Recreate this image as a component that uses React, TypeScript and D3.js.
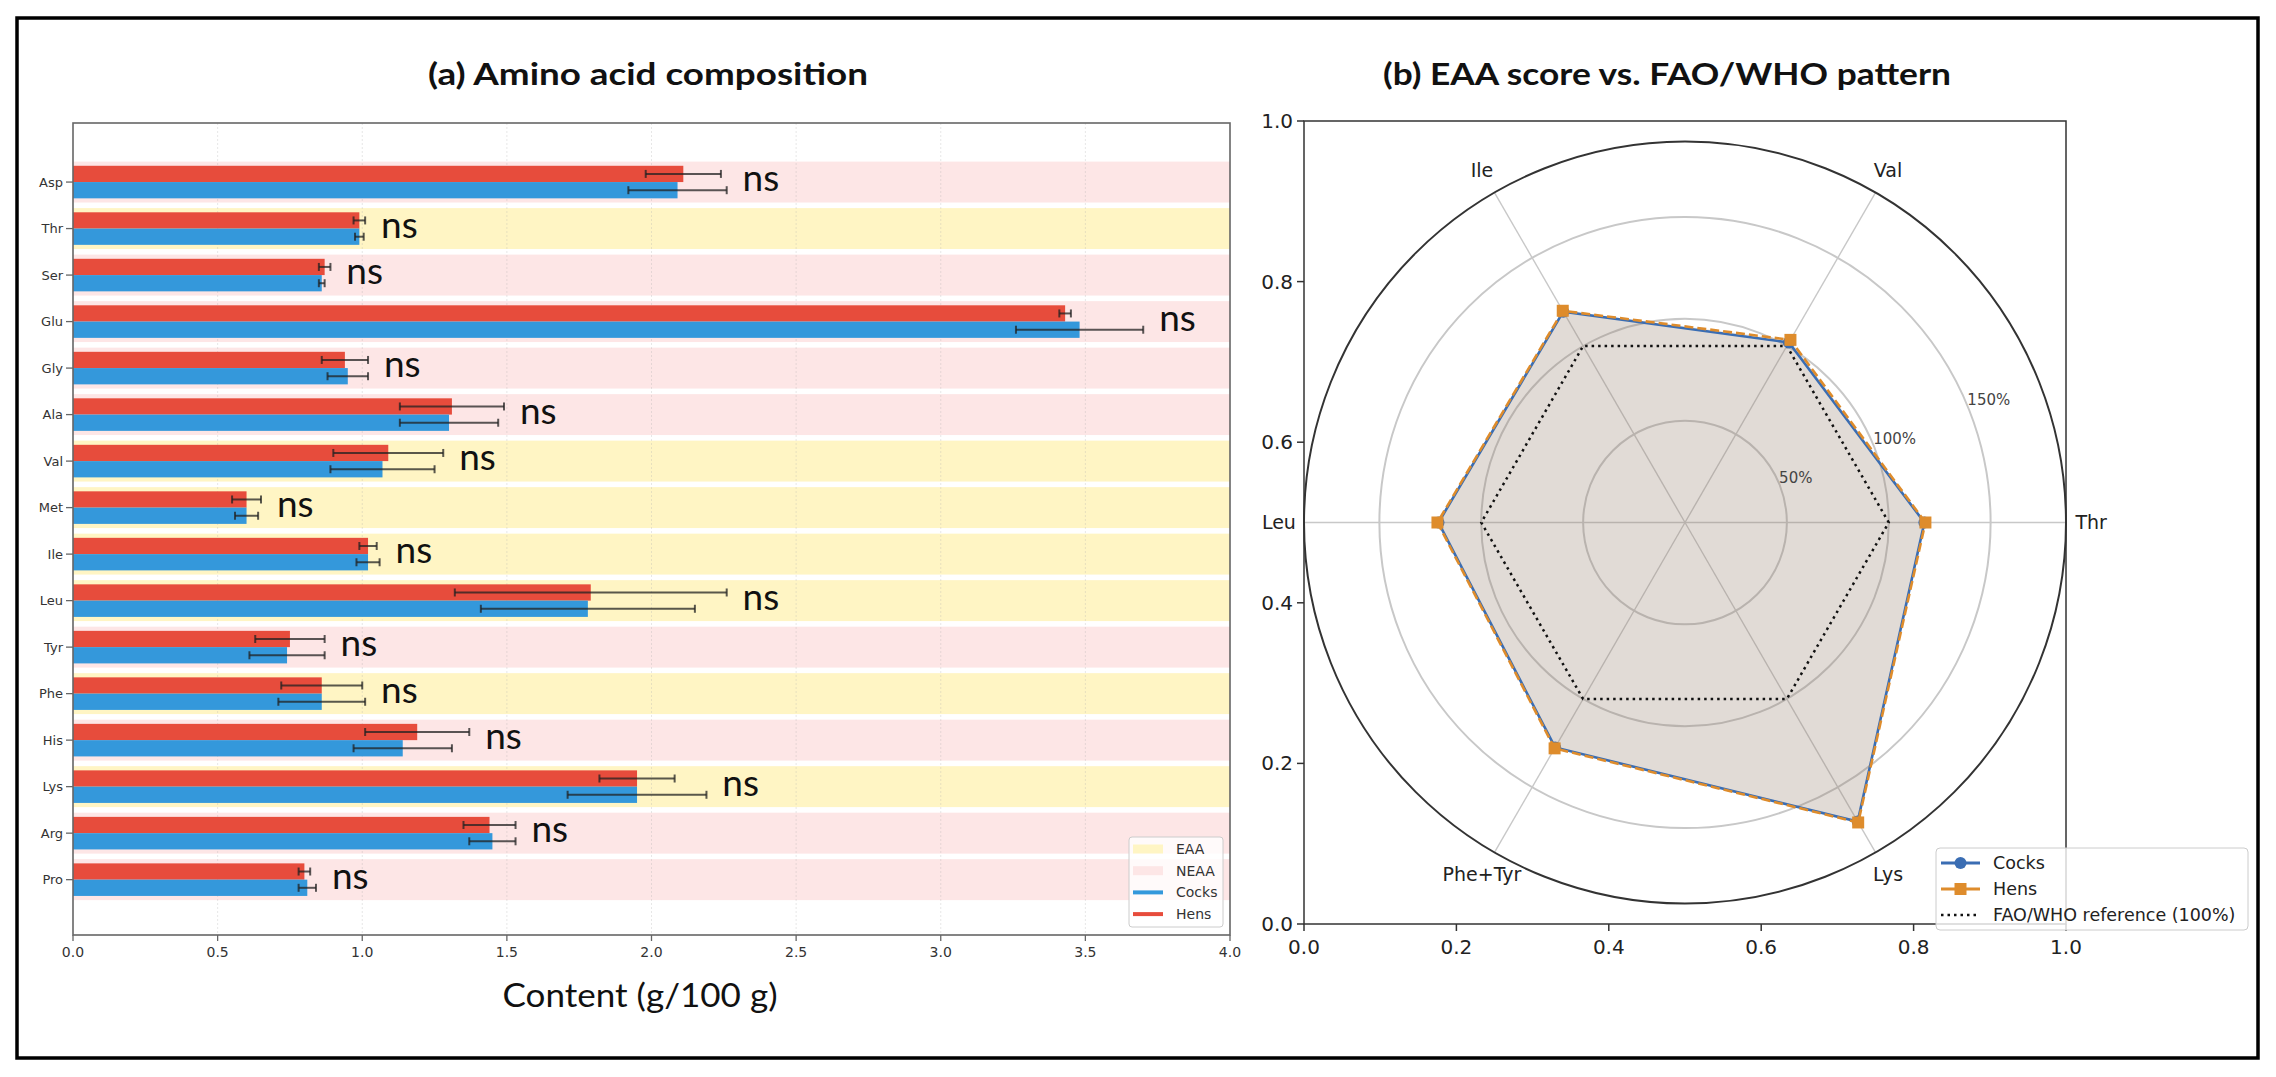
import { useEffect, useRef } from 'react';
import * as d3 from 'd3';

// (a) amino acid composition, g/100 g
const aminoAcids = ['Asp', 'Thr', 'Ser', 'Glu', 'Gly', 'Ala', 'Val', 'Met', 'Ile', 'Leu', 'Tyr', 'Phe', 'His', 'Lys', 'Arg', 'Pro'];
const aaGroup = ['NEAA', 'EAA', 'NEAA', 'NEAA', 'NEAA', 'NEAA', 'EAA', 'EAA', 'EAA', 'EAA', 'NEAA', 'EAA', 'NEAA', 'EAA', 'NEAA', 'NEAA'];
const cocksMean = [2.09, 0.99, 0.86, 3.48, 0.95, 1.3, 1.07, 0.6, 1.02, 1.78, 0.74, 0.86, 1.14, 1.95, 1.45, 0.81];
const cocksSd = [0.17, 0.015, 0.01, 0.22, 0.07, 0.17, 0.18, 0.04, 0.04, 0.37, 0.13, 0.15, 0.17, 0.24, 0.08, 0.03];
const hensMean = [2.11, 0.99, 0.87, 3.43, 0.94, 1.31, 1.09, 0.6, 1.02, 1.79, 0.75, 0.86, 1.19, 1.95, 1.44, 0.8];
const hensSd = [0.13, 0.02, 0.02, 0.02, 0.08, 0.18, 0.19, 0.05, 0.03, 0.47, 0.12, 0.14, 0.18, 0.13, 0.09, 0.02];
const sigLabels = aminoAcids.map(() => 'ns');
const contentTicks = [0, 0.5, 1, 1.5, 2, 2.5, 3, 3.5, 4];

// (b) EAA score (% of FAO/WHO pattern)
const eaaAxes = ['Thr', 'Val', 'Ile', 'Leu', 'Phe+Tyr', 'Lys'];
const cocksScore = [117.5, 102, 119.5, 121, 127.5, 169.5];
const hensScore = [118, 103.5, 120, 121.5, 128, 170];
const faoReference = [100, 100, 100, 100, 100, 100];
const radialTicks = [50, 100, 150];
const frameTicks = [0, 0.2, 0.4, 0.6, 0.8, 1.0];

const COCKS = '#3498db';
const HENS = '#e74c3c';
const COCKS_R = '#3a6db3';
const HENS_R = '#de8c2c';
const EAA_FILL = '#fff5c4';
const NEAA_FILL = '#fde6e6';
const tickFont = 'DejaVu Sans, sans-serif';
const titleFont = 'Lato, Open Sans, sans-serif';

const App = () => {
  const svgRef = useRef<SVGSVGElement>(null);

  useEffect(() => {
    if (!svgRef.current) return;
    const svg = d3.select(svgRef.current);
    svg.selectAll('*').remove();

    svg.append('rect').attr('width', 2276).attr('height', 1077).attr('fill', '#fff');
    svg.append('rect')
      .attr('x', 17).attr('y', 18).attr('width', 2241).attr('height', 1040)
      .attr('fill', 'none').attr('stroke', '#000').attr('stroke-width', 3.5);

    // ---------- (a) bars ----------
    const x = d3.scaleLinear().domain([0, 4]).range([73, 1230]);
    const y = d3.scaleLinear().domain([-1.27, 16.19]).range([123, 935]);
    const a = svg.append('g');
    const idx = aminoAcids.map((_, i) => i);

    a.selectAll('.band').data(idx).enter().append('rect')
      .attr('x', x(0)).attr('width', x(4) - x(0))
      .attr('y', i => y(i - 0.44)).attr('height', y(0.88) - y(0))
      .attr('fill', i => (aaGroup[i] === 'EAA' ? EAA_FILL : NEAA_FILL));

    a.selectAll('.grid').data(contentTicks.slice(1, -1)).enter().append('line')
      .attr('x1', d => x(d)).attr('x2', d => x(d)).attr('y1', y.range()[0]).attr('y2', y.range()[1])
      .attr('stroke', '#b0b0b0').attr('stroke-opacity', 0.3).attr('stroke-dasharray', '2,2');

    const bh = y(0.35) - y(0);
    a.selectAll('.hens').data(idx).enter().append('rect')
      .attr('x', x(0)).attr('y', i => y(i) - bh)
      .attr('width', i => x(hensMean[i]) - x(0)).attr('height', bh).attr('fill', HENS);
    a.selectAll('.cocks').data(idx).enter().append('rect')
      .attr('x', x(0)).attr('y', i => y(i))
      .attr('width', i => x(cocksMean[i]) - x(0)).attr('height', bh).attr('fill', COCKS);

    const errs = [
      ...idx.map(i => ({ m: hensMean[i], s: hensSd[i], cy: y(i) - bh / 2 })),
      ...idx.map(i => ({ m: cocksMean[i], s: cocksSd[i], cy: y(i) + bh / 2 })),
    ];
    const eg = a.append('g').attr('stroke', '#222').attr('stroke-opacity', 0.75).attr('stroke-width', 2);
    errs.forEach(e => {
      eg.append('line').attr('x1', x(e.m - e.s)).attr('x2', x(e.m + e.s)).attr('y1', e.cy).attr('y2', e.cy);
      [e.m - e.s, e.m + e.s].forEach(v => {
        eg.append('line').attr('x1', x(v)).attr('x2', x(v)).attr('y1', e.cy - 4).attr('y2', e.cy + 4);
      });
    });

    a.selectAll('.ns').data(idx).enter().append('text')
      .attr('x', i => x(Math.max(hensMean[i] + hensSd[i], cocksMean[i] + cocksSd[i]) + 0.055))
      .attr('y', i => y(i) + 9)
      .attr('font-family', titleFont).attr('font-size', 37).attr('fill', '#111')
      .text(i => sigLabels[i]);

    a.append('rect')
      .attr('x', x(0)).attr('y', y.range()[0]).attr('width', x(4) - x(0)).attr('height', y.range()[1] - y.range()[0])
      .attr('fill', 'none').attr('stroke', '#666').attr('stroke-width', 1.6);

    a.selectAll('.ytick').data(idx).enter().append('line')
      .attr('x1', x(0) - 7).attr('x2', x(0)).attr('y1', i => y(i)).attr('y2', i => y(i))
      .attr('stroke', '#666').attr('stroke-width', 1.3);
    a.selectAll('.ylab').data(idx).enter().append('text')
      .attr('x', x(0) - 10).attr('y', i => y(i)).attr('dy', '0.35em')
      .attr('text-anchor', 'end').attr('font-family', tickFont).attr('font-size', 13).attr('fill', '#333')
      .text(i => aminoAcids[i]);

    a.selectAll('.xtick').data(contentTicks).enter().append('line')
      .attr('x1', d => x(d)).attr('x2', d => x(d)).attr('y1', y.range()[1]).attr('y2', y.range()[1] + 6)
      .attr('stroke', '#666').attr('stroke-width', 1.3);
    a.selectAll('.xlab').data(contentTicks).enter().append('text')
      .attr('x', d => x(d)).attr('y', 952).attr('dy', '0.35em')
      .attr('text-anchor', 'middle').attr('font-family', tickFont).attr('font-size', 14).attr('fill', '#333')
      .text(d => d3.format('.1f')(d));

    a.append('text').attr('x', 640).attr('y', 1007).attr('text-anchor', 'middle')
      .attr('font-family', titleFont).attr('font-size', 33).attr('fill', '#111')
      .attr('textLength', 275).attr('lengthAdjust', 'spacingAndGlyphs')
      .text('Content (g/100 g)');
    a.append('text').attr('x', 648).attr('y', 85).attr('text-anchor', 'middle')
      .attr('font-family', titleFont).attr('font-weight', 'bold').attr('font-size', 31).attr('fill', '#111')
      .attr('textLength', 440).attr('lengthAdjust', 'spacingAndGlyphs')
      .text('(a) Amino acid composition');

    const legA = a.append('g').attr('transform', 'translate(1129,837)');
    legA.append('rect').attr('width', 94).attr('height', 90).attr('rx', 3)
      .attr('fill', '#fff').attr('fill-opacity', 0.8).attr('stroke', '#ccc');
    const legAItems = [
      { label: 'EAA', color: EAA_FILL, kind: 'patch' },
      { label: 'NEAA', color: NEAA_FILL, kind: 'patch' },
      { label: 'Cocks', color: COCKS, kind: 'line' },
      { label: 'Hens', color: HENS, kind: 'line' },
    ];
    legAItems.forEach((d, k) => {
      const cy = 12 + k * 21.7;
      if (d.kind === 'patch') {
        legA.append('rect').attr('x', 4).attr('y', cy - 4.5).attr('width', 30).attr('height', 9).attr('fill', d.color);
      } else {
        legA.append('line').attr('x1', 4).attr('x2', 34).attr('y1', cy).attr('y2', cy)
          .attr('stroke', d.color).attr('stroke-width', 4);
      }
      legA.append('text').attr('x', 47).attr('y', cy).attr('dy', '0.35em')
        .attr('font-family', tickFont).attr('font-size', 14).attr('fill', '#333').text(d.label);
    });

    // ---------- (b) radar ----------
    const xb = d3.scaleLinear().domain([0, 1]).range([1304, 2066]);
    const yb = d3.scaleLinear().domain([0, 1]).range([924, 121]);
    const b = svg.append('g');
    b.append('rect')
      .attr('x', xb(0)).attr('y', yb(1)).attr('width', xb(1) - xb(0)).attr('height', yb(0) - yb(1))
      .attr('fill', '#fff').attr('stroke', '#333').attr('stroke-width', 1.5);
    b.selectAll('.bxt').data(frameTicks).enter().append('line')
      .attr('x1', d => xb(d)).attr('x2', d => xb(d)).attr('y1', yb(0)).attr('y2', yb(0) + 7)
      .attr('stroke', '#333').attr('stroke-width', 1.5);
    b.selectAll('.bxl').data(frameTicks).enter().append('text')
      .attr('x', d => xb(d)).attr('y', 947).attr('dy', '0.35em').attr('text-anchor', 'middle')
      .attr('font-family', tickFont).attr('font-size', 20).attr('fill', '#222')
      .text(d => d3.format('.1f')(d));
    b.selectAll('.byt').data(frameTicks).enter().append('line')
      .attr('x1', xb(0) - 7).attr('x2', xb(0)).attr('y1', d => yb(d)).attr('y2', d => yb(d))
      .attr('stroke', '#333').attr('stroke-width', 1.5);
    b.selectAll('.byl').data(frameTicks).enter().append('text')
      .attr('x', xb(0) - 11).attr('y', d => yb(d)).attr('dy', '0.35em').attr('text-anchor', 'end')
      .attr('font-family', tickFont).attr('font-size', 20).attr('fill', '#222')
      .text(d => d3.format('.1f')(d));

    const cx = xb(0.5);
    const cy = yb(0.5);
    const R = (xb(1) - xb(0)) / 2;
    const rmax = 1.1 * (d3.max(hensScore) || 0);
    const r = d3.scaleLinear().domain([0, rmax]).range([0, R]);
    const theta = (k: number) => (k * 2 * Math.PI) / eaaAxes.length;
    const pol = b.append('g').attr('transform', `translate(${cx},${cy})`);
    pol.append('circle').attr('r', R).attr('fill', '#fff');

    pol.selectAll('.ring').data(radialTicks).enter().append('circle')
      .attr('r', d => r(d)).attr('fill', 'none').attr('stroke', '#c8c8c8').attr('stroke-width', 2);
    pol.selectAll('.spoke').data(eaaAxes.map((_, k) => k)).enter().append('line')
      .attr('x1', 0).attr('y1', 0)
      .attr('x2', k => R * Math.cos(theta(k))).attr('y2', k => -R * Math.sin(theta(k)))
      .attr('stroke', '#c8c8c8').attr('stroke-width', 1.4);

    const radar = d3.lineRadial<number>()
      .angle((_, k) => Math.PI / 2 - theta(k))
      .radius(v => r(v))
      .curve(d3.curveLinearClosed);
    const pt = (v: number, k: number) => [r(v) * Math.cos(theta(k)), -r(v) * Math.sin(theta(k))];

    pol.append('path').attr('d', radar(cocksScore)).attr('fill', COCKS_R).attr('fill-opacity', 0.15);
    pol.append('path').attr('d', radar(hensScore)).attr('fill', HENS_R).attr('fill-opacity', 0.15);
    pol.append('path').attr('d', radar(faoReference)).attr('fill', 'none')
      .attr('stroke', '#111').attr('stroke-width', 2.5).attr('stroke-dasharray', '2.5,4');
    pol.append('path').attr('d', radar(cocksScore)).attr('fill', 'none')
      .attr('stroke', COCKS_R).attr('stroke-width', 2.6);
    pol.selectAll('.cm').data(cocksScore).enter().append('circle')
      .attr('cx', (v, k) => pt(v, k)[0]).attr('cy', (v, k) => pt(v, k)[1]).attr('r', 6).attr('fill', COCKS_R);
    pol.append('path').attr('d', radar(hensScore)).attr('fill', 'none')
      .attr('stroke', HENS_R).attr('stroke-width', 2.6).attr('stroke-dasharray', '9,4');
    pol.selectAll('.hm').data(hensScore).enter().append('rect')
      .attr('x', (v, k) => pt(v, k)[0] - 6).attr('y', (v, k) => pt(v, k)[1] - 6)
      .attr('width', 12).attr('height', 12).attr('fill', HENS_R);

    pol.append('circle').attr('r', R).attr('fill', 'none').attr('stroke', '#333').attr('stroke-width', 2);

    pol.selectAll('.axl').data(eaaAxes.map((_, k) => k)).enter().append('text')
      .attr('x', k => 1.066 * R * Math.cos(theta(k))).attr('y', k => -1.066 * R * Math.sin(theta(k)))
      .attr('dy', '0.35em').attr('text-anchor', 'middle')
      .attr('font-family', tickFont).attr('font-size', 19).attr('fill', '#222')
      .text(k => eaaAxes[k]);

    const rlab = (22.5 * Math.PI) / 180;
    pol.selectAll('.rl').data(radialTicks).enter().append('text')
      .attr('x', d => r(d) * Math.cos(rlab)).attr('y', d => -r(d) * Math.sin(rlab) - 1)
      .attr('font-family', tickFont).attr('font-size', 15).attr('fill', '#444')
      .text(d => `${d}%`);

    b.append('text').attr('x', 1667).attr('y', 85).attr('text-anchor', 'middle')
      .attr('font-family', titleFont).attr('font-weight', 'bold').attr('font-size', 31).attr('fill', '#111')
      .attr('textLength', 568).attr('lengthAdjust', 'spacingAndGlyphs')
      .text('(b) EAA score vs. FAO/WHO pattern');

    const legB = b.append('g').attr('transform', 'translate(1936,848)');
    legB.append('rect').attr('width', 312).attr('height', 82).attr('rx', 4)
      .attr('fill', '#fff').attr('fill-opacity', 0.8).attr('stroke', '#ccc');
    const legBItems = [
      { label: 'Cocks', color: COCKS_R, marker: 'circle', dash: null },
      { label: 'Hens', color: HENS_R, marker: 'square', dash: null },
      { label: 'FAO/WHO reference (100%)', color: '#111', marker: null, dash: '2.5,4' },
    ];
    legBItems.forEach((d, k) => {
      const ly = 15 + k * 26;
      legB.append('line').attr('x1', 5).attr('x2', 44).attr('y1', ly).attr('y2', ly)
        .attr('stroke', d.color).attr('stroke-width', d.dash ? 2.5 : 3)
        .attr('stroke-dasharray', d.dash);
      if (d.marker === 'circle') legB.append('circle').attr('cx', 24.5).attr('cy', ly).attr('r', 6).attr('fill', d.color);
      if (d.marker === 'square') legB.append('rect').attr('x', 18.5).attr('y', ly - 6).attr('width', 12).attr('height', 12).attr('fill', d.color);
      legB.append('text').attr('x', 57).attr('y', ly).attr('dy', '0.35em')
        .attr('font-family', tickFont).attr('font-size', 17.5).attr('fill', '#222').text(d.label);
    });
  }, []);

  return (
    <svg
      ref={svgRef}
      width={2276}
      height={1077}
      style={{ position: 'absolute', left: 0, top: 0, display: 'block' }}
    />
  );
};

export default App;
